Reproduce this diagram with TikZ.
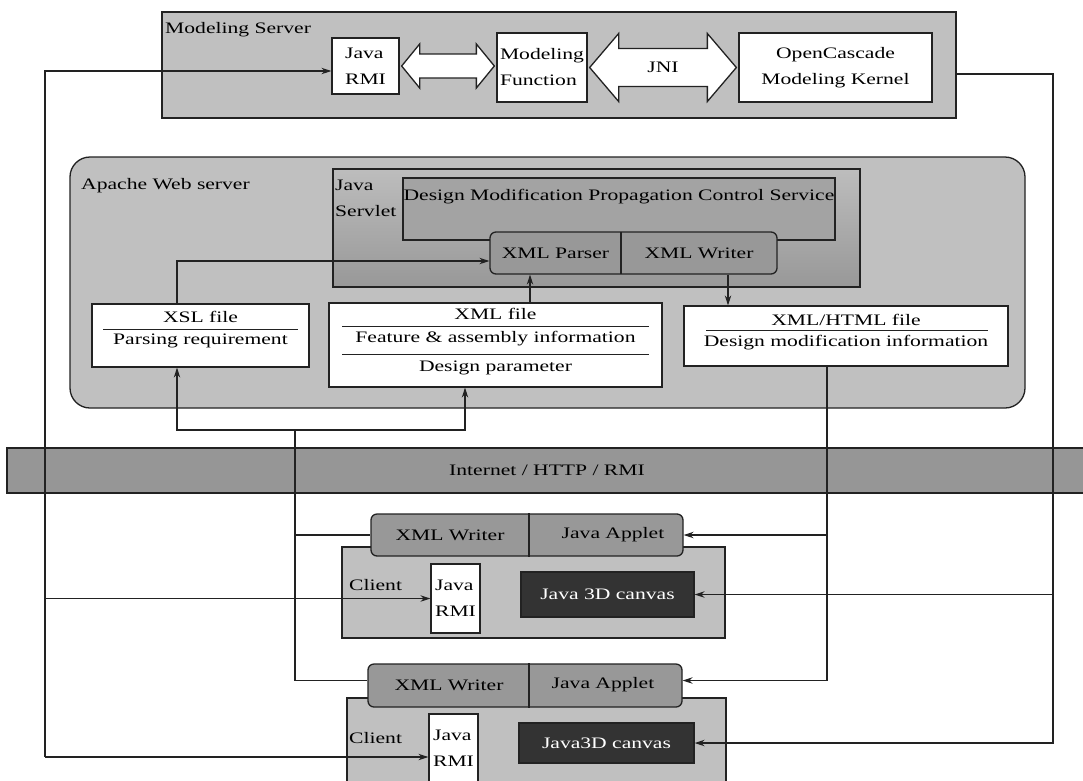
\documentclass[tikz,border=0pt]{standalone}
\usepackage{fontspec}
\setmainfont[FakeStretch=1.35]{Liberation Serif}
\usetikzlibrary{positioning,calc,arrows.meta}
\definecolor{panelgray}{RGB}{192,192,192}
\definecolor{servicegray}{RGB}{163,163,163}
\definecolor{partgray}{RGB}{152,152,152}
\definecolor{bargray}{RGB}{150,150,150}
\definecolor{canvasgray}{RGB}{51,51,51}
\definecolor{linegray}{RGB}{34,34,34}

\begin{document}
\begin{tikzpicture}[
    x=1pt, y=-1pt,
    every node/.style={font=\fontsize{16}{26}\selectfont},
    plainbox/.style={rectangle, draw=linegray, line width=1.3pt, inner sep=2pt},
    panel/.style={plainbox, fill=panelgray},
    whitebox/.style={plainbox, fill=white},
    partbox/.style={plainbox, fill=partgray, rounded corners=6pt},
    canvasbox/.style={plainbox, fill=canvasgray, text=white},
    lbl/.style={inner sep=1pt},
    conn/.style={-{Stealth[length=10pt,width=6.5pt]}, draw=linegray, line width=1.1pt},
    wire/.style={draw=linegray, line width=1.1pt},
    rule/.style={draw=linegray, line width=1pt},
    fatarrow/.style={draw=linegray, line width=1.3pt, fill=white, line join=miter}
]
\useasboundingbox (0,0) rectangle (1083,780);

% Modeling server
\node[panel, minimum width=794, minimum height=106] (ms) at (559,65) {};
\node[lbl, anchor=west] (mslbl) at (164,30) {Modeling Server};
\node[whitebox, minimum width=67, minimum height=56, align=left] (srmi) at (365.5,66) {Java\\RMI};
\node[whitebox, minimum width=90, minimum height=69, align=left] (mfun) at (542,67.5) {Modeling\\Function};
\node[whitebox, minimum width=193, minimum height=69, align=center] (occ) at (835.5,67.5) {OpenCascade\\Modeling Kernel};

% fat double arrows
\draw[fatarrow] let \p1=(srmi.east), \p2=(mfun.west) in
    (\x1+2pt,\y1) -- (\x1+20pt,\y1+22pt) -- (\x1+20pt,\y1+12pt) -- (\x2-20pt,\y1+12pt)
    -- (\x2-20pt,\y1+22pt) -- (\x2-2pt,\y1) -- (\x2-20pt,\y1-22pt) -- (\x2-20pt,\y1-12pt)
    -- (\x1+20pt,\y1-12pt) -- (\x1+20pt,\y1-22pt) -- cycle;
\draw[fatarrow] let \p1=(mfun.east), \p2=(occ.west) in
    (\x1+2pt,\y1) -- (\x1+31pt,\y1+34pt) -- (\x1+31pt,\y1+19pt) -- (\x2-31pt,\y1+19pt)
    -- (\x2-31pt,\y1+34pt) -- (\x2-2pt,\y1) -- (\x2-31pt,\y1-34pt) -- (\x2-31pt,\y1-19pt)
    -- (\x1+31pt,\y1-19pt) -- (\x1+31pt,\y1-34pt) -- cycle;
\node (jni) at ($(mfun.east)!0.5!(occ.west)$) {JNI};

% Apache web server
\node[panel, rounded corners=20pt, minimum width=955, minimum height=251] (apache) at (547.5,282.5) {};
\node[lbl, anchor=west] (apachelbl) at (80,186) {Apache Web server};
\node[plainbox, top color=panelgray!105, bottom color=partgray, minimum width=527, minimum height=118] (servlet) at (596.5,228) {};
\node[lbl, anchor=north west, align=left] (servletlbl) at (334,179) {Java\\Servlet};
\node[plainbox, fill=servicegray, minimum width=432, minimum height=62] (dmpcs) at (619,209) {};
\node (dmpcstxt) at (619,197) {Design Modification Propagation Control Service};
\node[partbox, minimum width=287, minimum height=42] (xmlio) at (633.5,253) {};
\draw[wire] (621,232) -- (621,274);
\node (parser) at (555.5,253) {XML Parser};
\node (writer) at (699,253) {XML Writer};

% files
\node[whitebox, minimum width=217, minimum height=63] (xsl) at (200.5,335.5) {};
\node (xslhead) at (200.5,317) {XSL file};
\draw[rule] (103,329) -- (298,329);
\node (xslbody) at (200.5,341) {Parsing requirement};

\node[whitebox, minimum width=333, minimum height=84] (xmlf) at (495.5,345) {};
\node (xmlfhead) at (495.5,314) {XML file};
\draw[rule] (342,326) -- (649,326);
\node (xmlfbody) at (495.5,339) {Feature \& assembly information};
\draw[rule] (342,354) -- (649,354);
\node (xmlfparam) at (495.5,368) {Design parameter};

\node[whitebox, minimum width=324, minimum height=60] (xhtml) at (846,336) {};
\node (xhtmlhead) at (846,320) {XML/HTML file};
\draw[rule] (706,330) -- (988,330);
\node (xhtmlbody) at (846,343) {Design modification information};

% network
\node[plainbox, fill=bargray, minimum width=1080, minimum height=45] (inet) at (547,470.5) {Internet / HTTP / RMI};

% client 1
\node[panel, minimum width=383, minimum height=91] (client1) at (533.5,592.5) {};
\node[partbox, minimum width=312, minimum height=42] (app1) at (527,535) {};
\draw[wire] ([xshift=2pt]app1.north) -- ([xshift=2pt]app1.south);
\node (writer1) at (450,535) {XML Writer};
\node (applet1) at (613,535) {Java Applet};
\node[lbl, anchor=west] (client1lbl) at (348,585) {Client};
\node[whitebox, minimum width=49, minimum height=69, align=left] (crmi1) at (455.5,598.5) {Java\\RMI};
\node[canvasbox, minimum width=173, minimum height=45] (canvas1) at (607.5,594.5) {Java 3D canvas};

% client 2
\node[panel, minimum width=379, minimum height=95] (client2) at (536.5,745.5) {};
\node[partbox, minimum width=314, minimum height=43] (app2) at (525,685.5) {};
\draw[wire] ([xshift=4pt]app2.north) -- ([xshift=4pt]app2.south);
\node (writer2) at (449,685) {XML Writer};
\node (applet2) at (603,685) {Java Applet};
\node[lbl, anchor=west] (client2lbl) at (348,738) {Client};
\node[whitebox, minimum width=49, minimum height=69, align=left] (crmi2) at (453.5,748.5) {Java\\RMI};
\node[canvasbox, minimum width=175, minimum height=40] (canvas2) at (606.5,743) {Java3D canvas};

% servlet connectors
\draw[conn] ([xshift=-23.5pt]xsl.north) |- ([yshift=-8pt]xmlio.west);
\draw[conn] ([xshift=34.5pt]xmlf.north) -- ([xshift=34.5pt]xmlf.north |- xmlio.south);
\draw[conn] ([xshift=94.5pt]xmlio.south) -- ([xshift=94.5pt]xmlio.south |- xhtml.north);

% file bus to the client writers
\coordinate (filebus) at (295,430);
\draw[conn] (filebus) -| ([xshift=-23.5pt]xsl.south);
\draw[conn] (filebus) -| ([xshift=-30.5pt]xmlf.south);
\draw[wire] (filebus) |- ([yshift=5pt]app2.west);
\draw[wire] (filebus |- app1.west) -- (app1.west);

% result file to the applets
\coordinate (webbus) at ([xshift=-19pt]xhtml.south);
\draw[conn] (webbus) |- ([yshift=5pt]app2.east);
\draw[conn] (webbus |- app1.east) -- (app1.east);

% RMI calls
\coordinate (rmibus) at (45,757);
\draw[conn] (rmibus) |- ([yshift=-5pt]srmi.west);
\draw[conn] (rmibus |- crmi1.west) -- (crmi1.west);
\draw[conn] (rmibus) -- (rmibus -| crmi2.west);

% kernel output to the canvases
\coordinate (viewbus) at (1053,0);
\draw[conn] ([yshift=-9pt]ms.east) -| (viewbus |- canvas2.east) -- (canvas2.east);
\draw[conn] (viewbus |- canvas1.east) -- (canvas1.east);

\end{tikzpicture}
\end{document}
